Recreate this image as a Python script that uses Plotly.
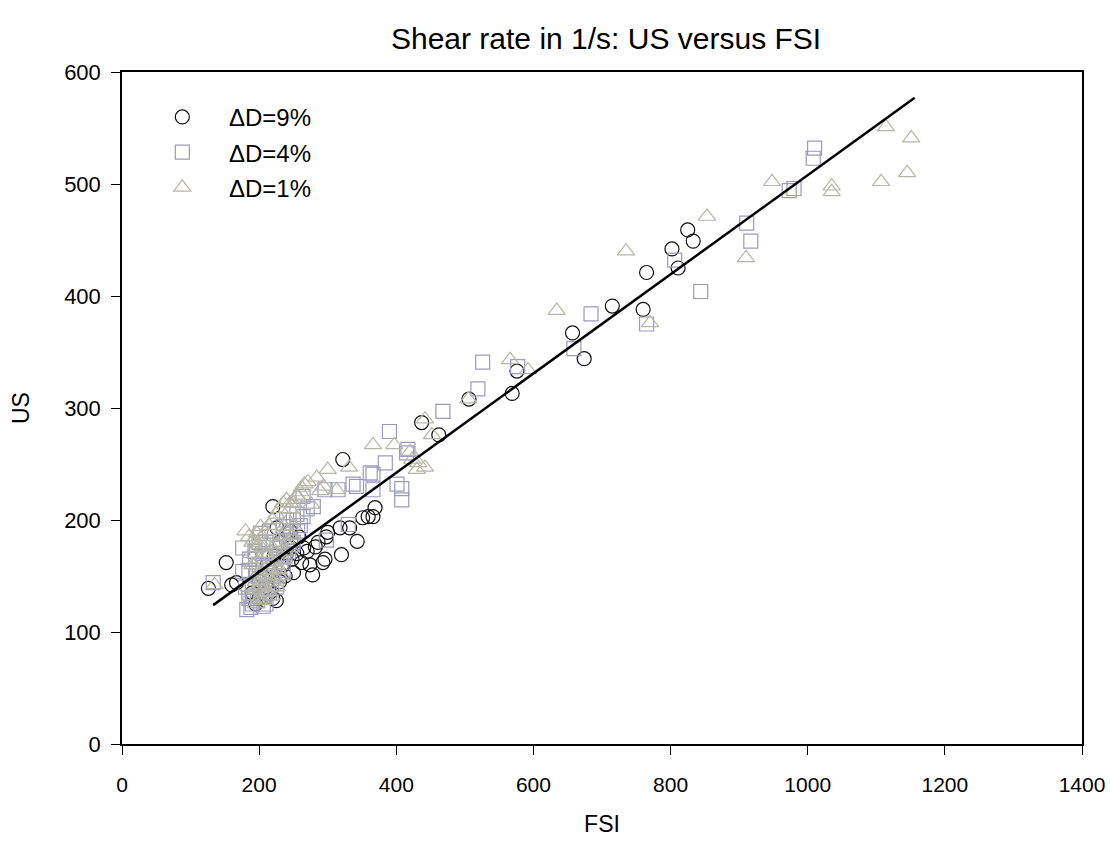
import plotly.graph_objects as go

# ---------------- data ----------------
d9_fsi = [825, 833, 802, 811, 765, 760, 715, 657, 674, 576, 569, 506, 437, 462,
          322, 220, 369, 359, 366, 351, 332, 343, 320, 298, 293, 274, 262, 250,
          152, 126, 160, 167, 226, 282, 318, 296, 278, 300, 286,
          205, 210, 215, 220, 225, 230, 235, 240, 245, 200, 195, 212, 222, 238,
          255, 265, 245, 230, 200, 190, 248, 258, 270]
d9_us = [459, 449, 442, 425, 421, 388, 391, 367, 344, 333, 313, 308, 287, 276,
         254, 212, 211, 203, 203, 202, 193, 181, 169, 185, 162, 160, 162, 153,
         162, 139, 142, 144, 193, 176, 193, 165, 151, 189, 180,
         150, 140, 135, 130, 128, 145, 160, 170, 175, 130, 125, 160, 168, 150,
         170, 175, 190, 180, 145, 135, 165, 185, 172]

d4_fsi = [1010, 1008, 980, 973, 911, 917, 844, 806, 765, 684, 526, 577, 519, 468,
          659, 417, 390, 415, 366, 384, 401, 408, 408, 342, 330, 298, 133, 176,
          176, 182, 206, 362, 366, 337, 315, 296, 264, 279, 235, 264,
          190, 195, 200, 185, 190, 210, 215, 220, 225, 230, 240, 245, 250, 255,
          205, 200, 195, 235, 225, 215, 240, 250, 260, 270, 185, 180, 210,
          188, 192, 198, 203, 208, 212, 218, 222, 228, 232, 238, 243, 248,
          186, 194, 202, 214, 226, 236, 246, 256]
d4_us = [532, 523, 496, 494, 465, 449, 404, 432, 375, 384, 341, 337, 317, 297,
         353, 263, 279, 260, 241, 251, 232, 228, 218, 230, 196, 182, 144, 175,
         154, 120, 123, 242, 227, 232, 227, 227, 221, 212, 194, 203,
         140, 150, 160, 130, 125, 125, 135, 150, 165, 175, 185, 190, 200, 205,
         170, 180, 165, 155, 140, 190, 200, 180, 195, 210, 155, 140, 180,
         122, 132, 128, 138, 132, 145, 142, 158, 150, 162, 168, 172, 178,
         165, 172, 188, 160, 175, 170, 182, 190]

d1_fsi = [1114, 1151, 1145, 1107, 1035, 1035, 948, 853, 910, 770, 735, 634, 566,
          592, 505, 442, 452, 420, 432, 442, 397, 366, 300, 331, 271, 262, 289,
          313, 423, 430, 255, 245, 135,
          180, 185, 190, 195, 200, 205, 210, 215, 220, 225, 230, 235, 240, 245,
          250, 255, 260, 190, 200, 210, 220, 230, 240, 250, 195, 205, 215, 225,
          235, 245, 200, 210, 220, 230, 185, 195, 205,
          188, 193, 198, 203, 208, 213, 218, 223, 228, 233, 238, 243, 248,
          192, 197, 202, 207, 212, 217, 222, 227, 232, 237, 242,
          187, 196, 204, 211, 219, 226, 234, 266, 276, 284, 294]
d1_us = [551, 541, 510, 502, 498, 493, 502, 471, 434, 376, 440, 387, 343,
         334, 308, 290, 276, 261, 251, 247, 267, 267, 245, 247, 234, 229, 226,
         227, 254, 245, 221, 215, 142,
         190, 185, 180, 175, 178, 185, 190, 195, 200, 205, 210, 215, 218, 210,
         215, 222, 225, 160, 165, 170, 175, 180, 190, 195, 145, 150, 155, 160,
         165, 175, 130, 135, 140, 150, 140, 125, 128,
         170, 160, 152, 146, 140, 136, 132, 148, 156, 164, 172, 180, 186,
         182, 188, 194, 176, 168, 162, 170, 178, 186, 194, 200,
         132, 138, 142, 150, 145, 140, 150, 232, 214, 238, 230]

fit_fsi = [133, 1156]
fit_us = [124, 577]

series_names = ["\u0394D=9%", "\u0394D=4%", "\u0394D=1%"]
pad = "\u00a0" * 4

FONT = "Liberation Sans, Arial, sans-serif"

fig = go.Figure()
fig.add_trace(go.Scatter(
    x=d9_fsi, y=d9_us, mode="markers", name=pad + series_names[0],
    legendgroup="a",
    marker=dict(symbol="circle-open", size=14, color="#111111",
                line=dict(width=1.2, color="#111111"))))
fig.add_trace(go.Scatter(
    x=d4_fsi, y=d4_us, mode="markers", name=pad + series_names[1],
    legendgroup="b",
    marker=dict(symbol="square-open", size=14, color="#9a9abb",
                line=dict(width=1.2, color="#9a9abb"))))
fig.add_trace(go.Scatter(
    x=d1_fsi, y=d1_us, mode="markers", name=pad + series_names[2],
    legendgroup="c",
    marker=dict(symbol="triangle-up-open", size=15, color="#b6b6a8",
                line=dict(width=1.2, color="#b6b6a8"))))
fig.add_trace(go.Scatter(
    x=fit_fsi, y=fit_us, mode="lines", showlegend=False,
    line=dict(color="#000000", width=2.5)))

axis_common = dict(
    showline=True, linecolor="#000000", linewidth=1.5, mirror=True,
    ticks="outside", ticklen=9, tickwidth=1.2, tickcolor="#000000",
    showgrid=False, zeroline=False, automargin=False,
)

fig.update_layout(
    width=1110, height=851,
    margin=dict(l=122, r=28, t=72, b=107),
    paper_bgcolor="white", plot_bgcolor="white",
    title=dict(text="Shear rate in 1/s: US versus FSI",
               font=dict(family=FONT, size=30, color="#000000"),
               x=0.546, xanchor="center", y=0.955, yanchor="middle"),
    xaxis=dict(range=[0, 1400], tickvals=[0, 200, 400, 600, 800, 1000, 1200, 1400],
               ticklabelstandoff=12,
               tickfont=dict(family=FONT, size=21, color="#000000"),
               title=dict(text="FSI", font=dict(family=FONT, size=23, color="#000000"),
                          standoff=21),
               **axis_common),
    yaxis=dict(range=[0, 600], tickvals=[0, 100, 200, 300, 400, 500, 600],
               ticklabelstandoff=6,
               tickfont=dict(family=FONT, size=22, color="#000000"),
               title=dict(text="US", font=dict(family=FONT, size=23, color="#000000"),
                          standoff=28),
               **axis_common),
    legend=dict(x=0.042, y=0.966, xanchor="left", yanchor="top",
                bgcolor="rgba(0,0,0,0)", borderwidth=0,
                font=dict(family=FONT, size=24, color="#000000"),
                traceorder="grouped", tracegroupgap=1),
    showlegend=True,
)

fig.write_html("out.html")
